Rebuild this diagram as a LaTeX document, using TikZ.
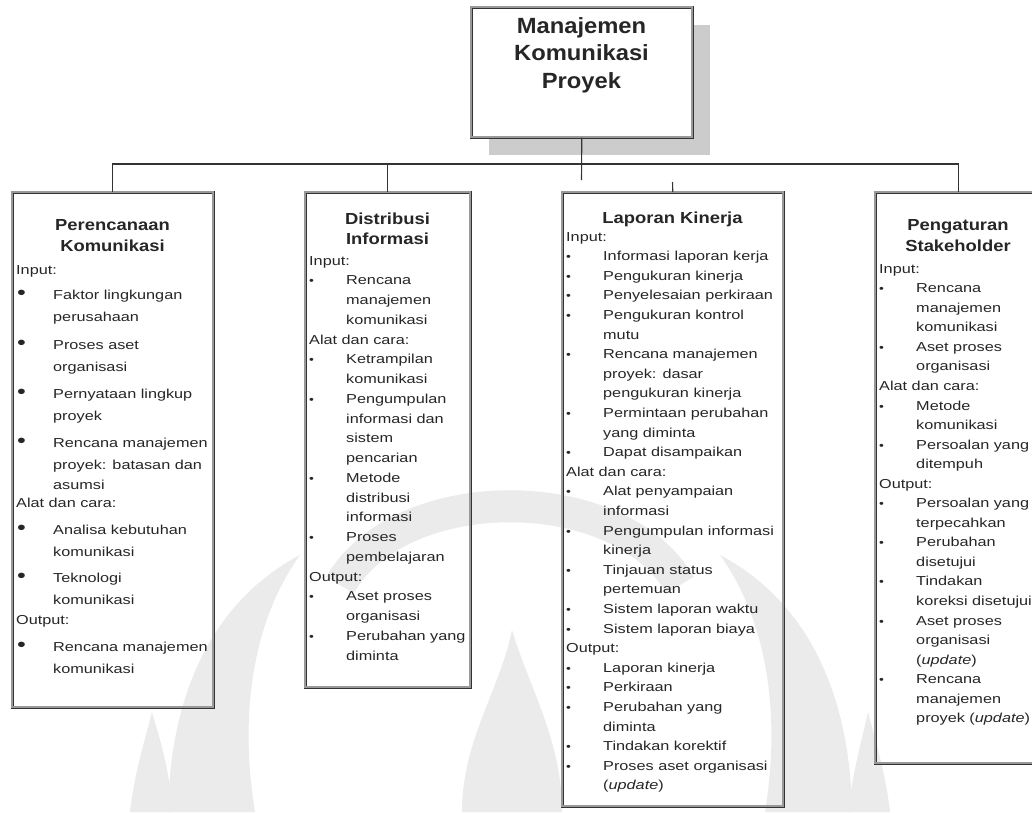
\documentclass[tikz,border=0pt]{standalone}
\usepackage{fontspec}
\setmainfont{Liberation Sans}
\newfontfamily\bodyfont[FakeStretch=1.25]{Liberation Sans}
\newfontfamily\headfont[FakeStretch=1.15]{Liberation Sans}
\newfontfamily\titlefont[FakeStretch=1.08]{Liberation Sans}
\usetikzlibrary{positioning,calc}

\newcommand{\bigbul}{\makebox[37pt][l]{\hspace{1pt}{\fontsize{20}{20}\selectfont\textbullet}}}
\newcommand{\smbul}{\makebox[37pt][l]{{\fontsize{11}{11}\selectfont\textbullet}}}
\newcommand{\ind}{\hspace*{37pt}}

\tikzset{
  panel/.style={draw=black!80, line width=0.6pt, double=black!40, double distance=1.7pt,
    anchor=north west, inner sep=0pt},
  head/.style={font=\headfont\bfseries\fontsize{16}{21}\selectfont, align=center,
    anchor=north, inner sep=0pt, text=black!85, execute at begin node={\rule{0pt}{14pt}}},
  body/.style={font=\bodyfont\fontsize{13}{19.6}\selectfont, align=left,
    anchor=north west, inner sep=0pt, text=black!85, execute at begin node={\rule{0pt}{12pt}}},
  link/.style={draw=black!80, line width=1.1pt},
  mark/.style={fill=black!8}
}

\begin{document}
\begin{tikzpicture}[x=1pt,y=-1pt]
\useasboundingbox (0,0) rectangle (1032,812);
\clip (0,0) rectangle (1032,812);
\fill[white] (0,0) rectangle (1032,812);

% faint watermark
\fill[black!8] (168,812) .. controls (170,690) and (215,600) .. (300,555)
  .. controls (250,625) and (240,720) .. (255,812) -- cycle;
\fill[black!8] (852,812) .. controls (850,690) and (805,600) .. (720,555)
  .. controls (770,625) and (780,720) .. (765,812) -- cycle;
\draw[black!8, line width=32pt] (340,585) .. controls (400,480) and (620,480) .. (680,585);
\fill[black!8] (462,812) .. controls (462,740) and (500,690) .. (512,630)
  .. controls (530,690) and (562,740) .. (562,812) -- cycle;
\fill[black!8] (130,812) .. controls (135,770) and (145,740) .. (152,712)
  .. controls (160,740) and (170,770) .. (172,812) -- cycle;
\fill[black!8] (848,812) .. controls (853,770) and (862,740) .. (868,712)
  .. controls (875,740) and (885,770) .. (890,812) -- cycle;

% connectors
\coordinate (busL) at (112.5,164);
\coordinate (drop) at (581.5,180);
\coordinate (perfstub) at (672.5,182);

% shadow and top box
\fill[black!20] (489,25) rectangle (710,155);
\node[panel, fill=white, minimum width=221, minimum height=130] (title) at (471,7) {};
\node[font=\titlefont\bfseries\fontsize{22}{27.5}\selectfont, align=center, anchor=north,
  inner sep=0pt, text=black!85, execute at begin node={\rule{0pt}{19pt}}] (titletext)
  at (581.5,17) {Manajemen\\Komunikasi\\Proyek};

% the four boxes
\node[panel, minimum width=201, minimum height=515] (plan) at (12,192) {};
\node[panel, minimum width=165, minimum height=495] (dist) at (305,192) {};
\node[panel, minimum width=221, minimum height=614] (perf) at (562,192) {};
\node[panel, minimum width=166, minimum height=571] (stake) at (875,192) {};

\draw[link] (title.south) -- (drop);
\draw[link] (plan.north) |- (stake.north |- busL) -- (stake.north);
\draw[link] (dist.north) -- (dist.north |- busL);
\draw[link] (perf.north) -- (perfstub);

% box 1
\node[head] (planhead) at (112.5,219) {Perencanaan\\Komunikasi};
\node[body, font=\bodyfont\fontsize{13}{22}\selectfont] (plantext) at (16,265) {Input:\\[3pt]
\bigbul Faktor lingkungan\\
\ind perusahaan\\[6pt]
\bigbul Proses aset\\
\ind organisasi\\[5pt]
\bigbul Pernyataan lingkup\\
\ind proyek\\[5pt]
\bigbul Rencana manajemen\\
\ind proyek: batasan dan\\[-2pt]
\ind asumsi\\[-4pt]
Alat dan cara:\\[5pt]
\bigbul Analisa kebutuhan\\
\ind komunikasi\\[4pt]
\bigbul Teknologi\\
\ind komunikasi\\[-2pt]
Output:\\[5pt]
\bigbul Rencana manajemen\\
\ind komunikasi};

% box 2
\node[head, font=\headfont\bfseries\fontsize{16}{20}\selectfont] (disthead) at (387.5,213) {Distribusi\\Informasi};
\node[body, font=\bodyfont\fontsize{13}{19.75}\selectfont] (disttext) at (309,256) {Input:\\
\smbul Rencana\\
\ind manajemen\\
\ind komunikasi\\
Alat dan cara:\\
\smbul Ketrampilan\\
\ind komunikasi\\
\smbul Pengumpulan\\
\ind informasi dan\\
\ind sistem\\
\ind pencarian\\
\smbul Metode\\
\ind distribusi\\
\ind informasi\\
\smbul Proses\\
\ind pembelajaran\\
Output:\\
\smbul Aset proses\\
\ind organisasi\\
\smbul Perubahan yang\\
\ind diminta};

% box 3
\node[head] (perfhead) at (672.5,209) {Laporan Kinerja};
\node[body] (perftext) at (566,232) {Input:\\
\smbul Informasi laporan kerja\\
\smbul Pengukuran kinerja\\
\smbul Penyelesaian perkiraan\\
\smbul Pengukuran kontrol\\
\ind mutu\\
\smbul Rencana manajemen\\
\ind proyek: dasar\\
\ind pengukuran kinerja\\
\smbul Permintaan perubahan\\
\ind yang diminta\\
\smbul Dapat disampaikan\\
Alat dan cara:\\
\smbul Alat penyampaian\\
\ind informasi\\
\smbul Pengumpulan informasi\\
\ind kinerja\\
\smbul Tinjauan status\\
\ind pertemuan\\
\smbul Sistem laporan waktu\\
\smbul Sistem laporan biaya\\
Output:\\
\smbul Laporan kinerja\\
\smbul Perkiraan\\
\smbul Perubahan yang\\
\ind diminta\\
\smbul Tindakan korektif\\
\smbul Proses aset organisasi\\
\ind (\emph{update})};

% box 4
\node[head] (stakehead) at (958,219) {Pengaturan\\Stakeholder};
\node[body, font=\bodyfont\fontsize{13}{19.55}\selectfont] (staketext) at (879,264) {Input:\\
\smbul Rencana\\
\ind manajemen\\
\ind komunikasi\\
\smbul Aset proses\\
\ind organisasi\\
Alat dan cara:\\
\smbul Metode\\
\ind komunikasi\\
\smbul Persoalan yang\\
\ind ditempuh\\
Output:\\
\smbul Persoalan yang\\
\ind terpecahkan\\
\smbul Perubahan\\
\ind disetujui\\
\smbul Tindakan\\
\ind koreksi disetujui\\
\smbul Aset proses\\
\ind organisasi\\
\ind (\emph{update})\\
\smbul Rencana\\
\ind manajemen\\
\ind proyek (\emph{update})};

\end{tikzpicture}
\end{document}
